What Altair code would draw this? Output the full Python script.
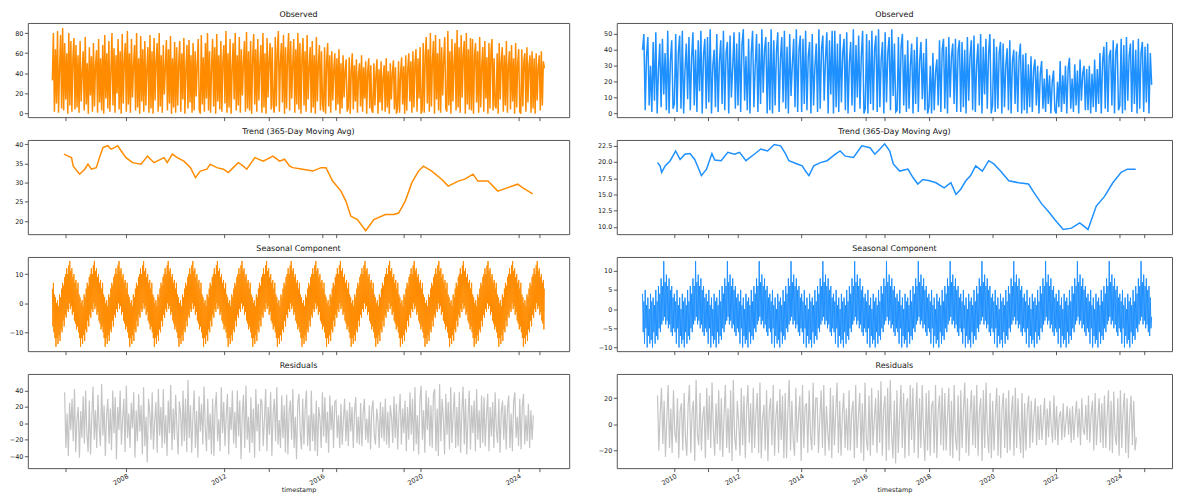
import altair as alt
import numpy as np
import pandas as pd

FONT = "DejaVu Sans"
ORANGE = "#ff8c00"
BLUE = "#1e90ff"
GREY = "#c4c4c4"

# ------------------------------------------------------------------ left (orange)
obs_left_span = (2005.0, 2025.05)
obs_left = [
    33, 80, 2, 64, 10, 82, 1, 45, 78, 5, 85, 3, 70, 14, 60, 0, 80, 8, 72, 2, 55, 75, 4, 68,
    6, 58, 1, 72, 12, 40, 62, 3, 76, 9, 50, 0, 66, 18, 57, 2, 70, 7, 48, 63, 1, 74, 11, 55,
    3, 68, 0, 78, 15, 60, 5, 72, 2, 42, 80, 8, 65, 1, 58, 20, 74, 4, 62, 0, 79, 10, 52, 70,
    2, 82, 9, 60, 1, 74, 16, 48, 68, 3, 80, 6, 55, 0, 77, 12, 64, 2, 72, 8, 45, 66, 1, 78,
    5, 62, 0, 75, 13, 52, 70, 2, 80, 7, 58, 1, 68, 19, 46, 73, 3, 64, 10, 77, 0, 55, 6, 71,
    1, 66, 8, 50, 72, 2, 60, 14, 75, 0, 44, 68, 5, 73, 11, 58, 1, 70, 3, 62, 17, 48, 74, 4,
    0, 78, 9, 56, 2, 70, 15, 80, 3, 62, 1, 47, 74, 7, 66, 0, 79, 12, 58, 4, 72, 2, 52, 68,
    10, 82, 1, 60, 6, 74, 0, 45, 70, 14, 80, 3, 58, 8, 76, 1, 64, 18, 50, 72, 2, 81, 5, 62,
    3, 72, 0, 56, 79, 9, 64, 2, 74, 13, 48, 68, 1, 80, 6, 60, 0, 75, 16, 54, 70, 4, 66, 8,
    1, 76, 7, 62, 82, 2, 52, 70, 11, 78, 0, 66, 5, 58, 80, 3, 72, 15, 49, 74, 1, 64, 9, 80,
    4, 70, 0, 56, 75, 8, 62, 2, 78, 14, 46, 66, 1, 72, 6, 58, 0, 76, 12, 50, 68, 3, 62, 9,
    2, 66, 0, 52, 70, 7, 58, 1, 62, 13, 44, 60, 3, 55, 9, 64, 0, 50, 5, 58, 16, 42, 54, 2,
    6, 56, 0, 44, 60, 4, 48, 12, 54, 1, 38, 50, 7, 58, 2, 46, 15, 52, 0, 42, 55, 5, 48, 3,
    1, 50, 8, 38, 54, 0, 44, 11, 52, 3, 36, 48, 2, 55, 6, 42, 0, 50, 14, 40, 53, 4, 46, 0,
    5, 52, 1, 40, 56, 9, 47, 0, 58, 3, 44, 60, 12, 52, 1, 62, 6, 50, 64, 2, 55, 15, 66, 0,
    4, 70, 1, 58, 76, 10, 64, 2, 80, 7, 52, 72, 0, 78, 14, 60, 3, 74, 1, 66, 18, 55, 76, 5,
    2, 82, 8, 62, 0, 74, 12, 50, 70, 3, 83, 6, 66, 1, 78, 16, 58, 72, 0, 80, 9, 64, 4, 75,
    3, 74, 0, 58, 70, 11, 62, 1, 76, 6, 48, 66, 2, 72, 15, 56, 0, 70, 5, 62, 74, 3, 55, 8,
    5, 60, 0, 70, 14, 52, 66, 2, 58, 8, 72, 1, 48, 62, 4, 68, 12, 55, 0, 70, 6, 50, 64, 2,
    0, 64, 7, 52, 60, 2, 66, 11, 48, 58, 1, 62, 5, 55, 0, 60, 13, 46, 58, 3, 62, 8, 52, 45,
]

trend_left_x = [
    2005.47, 2005.64, 2005.78, 2005.85, 2006.11, 2006.32, 2006.45, 2006.59, 2006.79, 2006.92,
    2007.06, 2007.26, 2007.39, 2007.53, 2007.66, 2007.80, 2008.0, 2008.27, 2008.61, 2008.88,
    2009.14, 2009.55, 2009.68, 2009.89, 2010.09, 2010.36, 2010.63, 2010.83, 2011.03, 2011.30,
    2011.43, 2011.70, 2011.97, 2012.17, 2012.37, 2012.58, 2012.78, 2012.92, 2013.25, 2013.59,
    2013.99, 2014.26, 2014.46, 2014.67, 2014.80, 2015.20, 2015.61, 2015.95, 2016.15, 2016.42,
    2016.76, 2016.96, 2017.16, 2017.43, 2017.77, 2018.10, 2018.57, 2018.91, 2019.11, 2019.38,
    2019.65, 2019.92, 2020.12, 2020.46, 2020.86, 2021.13, 2021.54, 2021.81, 2022.14, 2022.34,
    2022.75, 2023.15, 2023.56, 2023.96, 2024.16, 2024.57,
]
trend_left_y = [
    37.4, 36.9, 36.5, 34.3, 32.2, 33.5, 34.8, 33.5, 33.9, 36.5,
    39.1, 39.6, 38.7, 39.1, 39.6, 38.3, 36.5, 35.2, 34.8, 36.9,
    35.2, 36.5, 35.2, 37.4, 36.5, 35.6, 33.9, 31.3, 33.0, 33.5,
    34.8, 33.9, 33.5, 32.6, 33.9, 35.2, 34.3, 33.5, 36.5, 35.6,
    36.9, 35.6, 36.1, 34.3, 33.9, 33.5, 33.0, 33.9, 33.9, 30.4,
    27.8, 25.2, 21.3, 20.4, 17.5, 20.4, 21.7, 21.7, 22.1, 25.2,
    30.0, 33.0, 34.3, 33.0, 30.9, 29.1, 30.4, 30.9, 32.2, 30.4,
    30.4, 27.8, 28.7, 29.6, 28.7, 27.1,
]

# seasonal component repeats every year: one year
seasonal_left_one_year = [
    5, -8, 7, -10, 3, -12, 2, -15, 0, -12, 1, -14,
    -1, -11, 3, -13, 2, -9, 5, -10, 7, -6, 6, -8,
    9, -4, 10, -5, 12, -2, 10, -3, 13, 0, 14.5, -2,
    11, -1, 12, -4, 9, -3, 10, -6, 7, -7, 8, -9,
]
seasonal_left_span = (2005.0, 2025.05)
seasonal_left = seasonal_left_one_year * 20 + [5]

resid_left_span = (2005.5, 2024.6)
resid_left = [
    38, -30, 12, -40, 25, -8, 30, -22, 42, -35, 5, 20, -42, 15, -18, 33, -25, 40, -12, -35,
    28, -38, 8, 45, -20, 16, -30, 35, -5, -28, 48, -15, 22, -40, 10, 30, -25, 18, -33, 40,
    -12, 32, -44, 20, -8, 40, -26, 5, 30, -35, 46, -18, 12, -30, 25, -6, 38, -42, 16, -22,
    36, -10, 22, -38, 44, -28, 8, -48, 30, 14, -20, 38, -32, 3, 26, -36, 42, -15, 20, -30,
    42, -25, 10, -40, 28, -12, 47, -33, 18, -20, 35, -6, -38, 27, 12, -28, 40, -22, 30, -35,
    53, -18, 22, -36, 8, 40, -30, 15, -42, 33, -10, 24, -26, 45, -5, -34, 30, -20, 12, -38,
    30, -40, 18, 38, -22, 5, -34, 44, -12, 26, -28, 10, 36, -38, 20, -8, 40, -25, 14, -30,
    40, -16, 28, -44, 12, 35, -30, 46, -20, 8, -36, 32, -24, 18, -42, 42, -10, 24, -34, 30,
    26, -28, 6, 42, -34, 20, -14, 38, -40, 12, 30, -22, 44, -26, 4, -30, 34, -18, 22, -36,
    35, -38, 15, 28, -20, 42, -30, 8, -44, 24, 36, -12, -32, 30, -26, 18, 40, -28, 10, -34,
    40, -22, 12, -34, 28, -40, 20, 6, -30, 38, -16, 32, -24, 14, -36, 34, -8, 22, -30, 26,
    28, -18, 10, -30, 24, -26, 4, 30, -22, 16, -28, 26, -10, 20, -30, 14, 32, -24, 8, -26,
    25, -28, 12, 30, -20, 6, -24, 22, -32, 16, 28, -14, -26, 18, 4, -30, 26, -18, 20, -22,
    30, -26, 14, -30, 22, 8, -24, 33, -18, 24, -32, 10, 36, -26, 18, -12, 28, -34, 20, -20,
    38, -14, 30, -34, 44, -26, 10, -38, 28, 46, -20, 16, -36, 40, -8, 32, -28, 22, -30, 36,
    42, -34, 18, -40, 48, -22, 30, 8, -38, 36, -14, 26, -32, 44, -24, 12, 38, -30, 20, -28,
    38, -36, 14, 45, -26, 30, -38, 6, 40, -32, 22, -12, 28, -34, 42, -20, 16, -30, 34, -24,
    32, -28, 10, 36, -34, 20, -16, 26, -30, 38, -8, -24, 30, -36, 14, 28, -20, 22, -32, 18,
    34, -30, 12, -34, 26, 38, -18, 8, -28, 30, -32, 20, 36, -26, 10, -22, 24, -30, 16, -20,
    10,
]

# ------------------------------------------------------------------ right (blue)
obs_right_span = (2009.0, 2025.0)
obs_right = [
    40, 50, 2, 36, 48, 5, 30, 1, 45, 8, 51, 0, 28, 44, 4, 47, 12, 38, 2, 52, 0, 33, 46, 3,
    6, 50, 1, 38, 49, 3, 52, 0, 27, 44, 9, 48, 2, 35, 51, 5, 40, 1, 46, 14, 52, 0, 37, 47,
    3, 48, 7, 53, 0, 30, 40, 4, 50, 1, 33, 46, 6, 52, 2, 38, 45, 0, 49, 10, 29, 51, 3, 44,
    5, 51, 1, 43, 53, 8, 36, 2, 47, 0, 38, 52, 4, 30, 50, 1, 44, 6, 53, 13, 40, 48, 0, 45,
    2, 53, 0, 46, 5, 39, 51, 1, 34, 48, 7, 52, 3, 42, 0, 50, 11, 31, 47, 4, 53, 1, 40, 49,
    1, 47, 6, 52, 2, 36, 45, 0, 50, 5, 29, 44, 1, 53, 3, 41, 49, 8, 35, 51, 0, 46, 12, 52,
    0, 52, 4, 44, 1, 50, 7, 38, 47, 2, 51, 0, 32, 45, 5, 53, 1, 43, 10, 49, 3, 36, 52, 0,
    3, 50, 0, 46, 6, 52, 2, 40, 49, 1, 53, 4, 34, 45, 0, 51, 7, 38, 48, 2, 53, 11, 44, 1,
    2, 48, 0, 42, 50, 5, 37, 1, 46, 3, 30, 44, 0, 40, 6, 48, 1, 33, 45, 9, 38, 2, 47, 0,
    4, 30, 0, 38, 2, 26, 34, 5, 46, 1, 40, 47, 3, 42, 0, 48, 10, 36, 44, 6, 47, 1, 39, 46,
    1, 45, 4, 40, 0, 48, 8, 36, 46, 2, 49, 1, 31, 44, 5, 50, 0, 42, 12, 47, 3, 38, 50, 0,
    5, 47, 1, 42, 3, 38, 45, 0, 44, 4, 30, 41, 2, 46, 0, 33, 40, 6, 39, 1, 35, 44, 0, 37,
    2, 38, 0, 31, 4, 36, 1, 28, 34, 5, 30, 0, 25, 33, 3, 22, 1, 28, 6, 24, 0, 20, 27, 2,
    0, 20, 4, 33, 1, 24, 6, 30, 0, 28, 35, 3, 22, 1, 31, 5, 27, 0, 34, 8, 25, 30, 2, 28,
    2, 30, 0, 25, 4, 34, 1, 28, 6, 38, 0, 33, 42, 3, 45, 1, 36, 40, 5, 46, 0, 39, 44, 2,
    5, 47, 0, 43, 2, 48, 8, 36, 44, 1, 46, 6, 40, 0, 47, 3, 38, 45, 1, 42, 7, 44, 0, 38,
    18,
]

trend_right_x = [
    2009.47, 2009.55, 2009.60, 2009.71, 2009.87, 2010.04, 2010.18, 2010.33, 2010.49, 2010.64,
    2010.75, 2010.85, 2011.01, 2011.18, 2011.27, 2011.47, 2011.68, 2011.89, 2012.05, 2012.25,
    2012.51, 2012.72, 2012.93, 2013.14, 2013.34, 2013.50, 2013.60, 2013.86, 2014.02, 2014.12,
    2014.23, 2014.38, 2014.59, 2014.80, 2015.06, 2015.21, 2015.37, 2015.63, 2015.89, 2016.15,
    2016.30, 2016.46, 2016.61, 2016.77, 2016.88, 2017.08, 2017.34, 2017.50, 2017.65, 2017.81,
    2018.02, 2018.22, 2018.48, 2018.69, 2018.85, 2019.00, 2019.16, 2019.31, 2019.47, 2019.68,
    2019.88, 2020.04, 2020.25, 2020.51, 2020.82, 2021.13, 2021.34, 2021.55, 2021.75, 2021.96,
    2022.22, 2022.48, 2022.74, 2023.00, 2023.26, 2023.52, 2023.78, 2024.04, 2024.24, 2024.50,
]
trend_right_y = [
    19.9, 19.4, 18.4, 19.4, 20.2, 21.7, 20.4, 21.2, 21.3, 20.4,
    19.1, 17.9, 18.9, 21.3, 20.3, 20.2, 21.5, 21.2, 21.5, 20.2,
    21.2, 22.0, 21.7, 22.7, 22.5, 21.2, 20.2, 19.7, 19.4, 18.6,
    17.9, 19.4, 19.9, 20.2, 21.2, 21.7, 20.9, 20.7, 22.5, 22.2,
    21.2, 22.0, 22.8, 21.7, 19.7, 18.6, 18.9, 17.6, 16.6, 17.3,
    17.1, 16.8, 16.0, 16.8, 15.0, 15.8, 17.1, 17.9, 19.4, 18.6,
    20.2, 19.7, 18.6, 17.1, 16.8, 16.6, 15.0, 13.5, 12.4, 11.1,
    9.6, 9.8, 10.6, 9.6, 13.2, 14.7, 16.8, 18.4, 18.9, 18.9,
]

seasonal_right_one_year = [
    4, -6, 2, -9, 5, -5, 1, -10, 3, -7, 0, -9,
    4, -8, 2, -10, 3, -6, 1, -9, 5, -7, 2, -8,
    6, -5, 4, -6, 8, -4, 6, -3, 12.5, -2, 7, -4,
    9, -3, 6, -5, 8, -4, 5, -6, 6, -7, 3, -5,
]
seasonal_right_span = (2009.0, 2025.0)
seasonal_right = seasonal_right_one_year * 16 + [-2]

resid_right_span = (2009.47, 2024.52)
resid_right = [
    22, -20, 8, 28, -15, 18, -25, 4, 30, -18, 12, -22, 26, -6, -14, 20, -26, 10, 16, -20, 24, -10, -24, 14,
    30, -22, 10, 18, -28, 34, -8, -16, 24, -20, 6, 14, -26, 28, -12, 22, -18, 32, -4, -24, 16, -15, 26, -20,
    20, -25, 6, 30, -18, 12, -22, 26, -28, 34, -10, -20, 18, 2, -24, 28, -16, 22, -26, 12, 30, -14, 16, -22,
    28, -18, 8, 24, -22, 32, -26, 4, 15, -20, 26, -28, 10, 20, -16, 30, -24, 6, 18, -22, 27, -12, 22, -26,
    24, -26, 10, 34, -20, 18, -12, -24, 28, -14, 6, 22, -28, 30, -18, 14, 16, -22, 26, -8, -20, 32, -16, 20,
    20, -22, 4, 26, -18, 30, -24, 14, -6, -20, 28, -26, 22, -16, 10, 32, -22, 18, -24, 8, 24, -18, 12, -20,
    26, -20, 10, 18, -26, 30, -18, 6, 24, -22, 16, -28, 32, -12, -20, 22, -24, 28, -16, 4, 20, -22, 26, -14,
    33, -24, 12, 22, -28, 28, -20, 34, -8, -26, 18, -30, 26, -22, 6, 30, -18, 24, -26, 14, 20, -24, 30, -12,
    28, -22, 8, 32, -26, 20, -18, 30, -6, -28, 24, -20, 26, -24, 14, 18, -22, 30, -26, 10, 22, -16, 28, -20,
    24, -20, 6, 28, -24, 18, -26, 30, -10, -20, 22, -28, 26, -18, 12, 32, -22, 20, -24, 8, 26, -16, 22, -18,
    30, -24, 10, 20, -28, 26, -18, 32, -6, -22, 24, -26, 18, -20, 8, 28, -24, 22, -26, 12, 24, -18, 20, -22,
    26, -20, 8, 22, -24, 28, -18, 20, -4, -22, 24, -26, 16, -20, 10, 22, -18, 18, -14, 6, 20, -16, 14, -12,
    15, -12, 4, 20, -16, 12, -10, 18, -2, -14, 22, -12, 14, -16, 6, 10, -12, 16, -10, 2, 14, -8, 12, -14,
    14, -12, 6, 18, -10, 12, -16, 20, -4, -8, 15, -12, 22, -14, 8, 18, -20, 24, -16, 4, 20, -14, 16, -18,
    22, -18, 6, 26, -20, 18, -22, 25, -8, -16, 20, -24, 26, -18, 10, 24, -22, 20, -26, 6, 22, -16, 18, -20,
    -10,
]

# ------------------------------------------------------------------ axes setup
LEFT_X_DOMAIN = [2004.0, 2026.06]
RIGHT_X_DOMAIN = [2008.19, 2025.64]
LEFT_X_TICKS = [2005.55, 2008, 2012, 2013.83, 2016, 2016.58, 2019.33, 2020, 2024, 2024.86]
RIGHT_X_TICKS = [2010, 2011.06, 2012, 2014, 2016, 2016.6, 2018, 2020, 2022, 2024, 2024.77]

PANEL_H = 95


def seq_frame(values, span):
    return pd.DataFrame({"x": np.linspace(span[0], span[1], len(values)), "y": values})


def pair_frame(xs, ys):
    return pd.DataFrame({"x": xs, "y": ys})


def panel(df, color, sw, title, xdom, xticks, width, ydom, yticks, yfmt, yext, bottom):
    if bottom:
        xaxis = alt.Axis(
            values=xticks,
            labelExpr="floor(datum.value) == datum.value ? format(datum.value, 'd') : ''",
            labelAngle=330,
            labelAlign="right",
            labelBaseline="top",
            labelOverlap=False,
            labelFlush=False,
            labelPadding=1,
            title="timestamp",
            titlePadding=0,
        )
    else:
        xaxis = alt.Axis(values=xticks, labels=False, title=None, minExtent=4, maxExtent=4)
    yaxis = alt.Axis(values=yticks, format=yfmt, title=None, minExtent=yext, maxExtent=yext)
    return (
        alt.Chart(df)
        .mark_line(color=color, strokeWidth=sw, clip=True)
        .encode(
            x=alt.X("x:Q", scale=alt.Scale(domain=xdom, nice=False, zero=False), axis=xaxis),
            y=alt.Y("y:Q", scale=alt.Scale(domain=ydom, nice=False, zero=False), axis=yaxis),
        )
        .properties(
            width=width,
            height=PANEL_H,
            title=alt.TitleParams(
                text=title, fontSize=8, fontWeight="normal", font=FONT,
                offset=4, frame="group", anchor="middle", color="#111",
            ),
        )
    )


T_OBS = "Observed"
T_TREND = "Trend (365-Day Moving Avg)"
T_SEAS = "Seasonal Component"
T_RES = "Residuals"

LW, RW = 546, 560
OBS_W, TREND_W, SEAS_W, RES_W = 1.5, 1.5, 1.0, 1.2

left_col = alt.vconcat(
    panel(seq_frame(obs_left, obs_left_span), ORANGE, OBS_W, T_OBS, LEFT_X_DOMAIN, LEFT_X_TICKS, LW,
          [-3.5, 90], [0, 20, 40, 60, 80], "d", 18, False),
    panel(pair_frame(trend_left_x, trend_left_y), ORANGE, TREND_W, T_TREND, LEFT_X_DOMAIN, LEFT_X_TICKS, LW,
          [16.6, 41.1], [20, 25, 30, 35, 40], "d", 18, False),
    panel(seq_frame(seasonal_left, seasonal_left_span), ORANGE, SEAS_W, T_SEAS, LEFT_X_DOMAIN, LEFT_X_TICKS, LW,
          [-16.5, 15.9], [-10, 0, 10], "d", 18, False),
    panel(seq_frame(resid_left, resid_left_span), GREY, RES_W, T_RES, LEFT_X_DOMAIN, LEFT_X_TICKS, LW,
          [-54.8, 60.4], [-40, -20, 0, 20, 40], "d", 18, True),
    spacing=5,
)

right_col = alt.vconcat(
    panel(seq_frame(obs_right, obs_right_span), BLUE, OBS_W, T_OBS, RIGHT_X_DOMAIN, RIGHT_X_TICKS, RW,
          [-2.3, 56.9], [0, 10, 20, 30, 40, 50], "d", 22, False),
    panel(pair_frame(trend_right_x, trend_right_y), BLUE, TREND_W, T_TREND, RIGHT_X_DOMAIN, RIGHT_X_TICKS, RW,
          [8.87, 23.4], [10, 12.5, 15, 17.5, 20, 22.5], ".1f", 22, False),
    panel(seq_frame(seasonal_right, seasonal_right_span), BLUE, SEAS_W, T_SEAS, RIGHT_X_DOMAIN, RIGHT_X_TICKS, RW,
          [-10.96, 13.6], [-10, -5, 0, 5, 10], "d", 22, False),
    panel(seq_frame(resid_right, resid_right_span), GREY, RES_W, T_RES, RIGHT_X_DOMAIN, RIGHT_X_TICKS, RW,
          [-33.5, 38.5], [-20, 0, 20], "d", 22, True),
    spacing=5,
)

chart = (
    alt.hconcat(left_col, right_col, spacing=24)
    .properties(padding=0, background="white")
    .configure_view(stroke="#555", strokeWidth=1)
    .configure_axis(
        grid=False,
        domain=False,
        labelFont=FONT,
        labelFontSize=6.5,
        labelColor="#222",
        labelPadding=1.5,
        tickColor="#333",
        tickSize=3.5,
        tickWidth=0.8,
        titleFont=FONT,
        titleFontSize=6.5,
        titleFontWeight="normal",
        titleColor="#222",
    )
)

chart.save("out.html", embed_options={"renderer": "svg", "actions": False})
